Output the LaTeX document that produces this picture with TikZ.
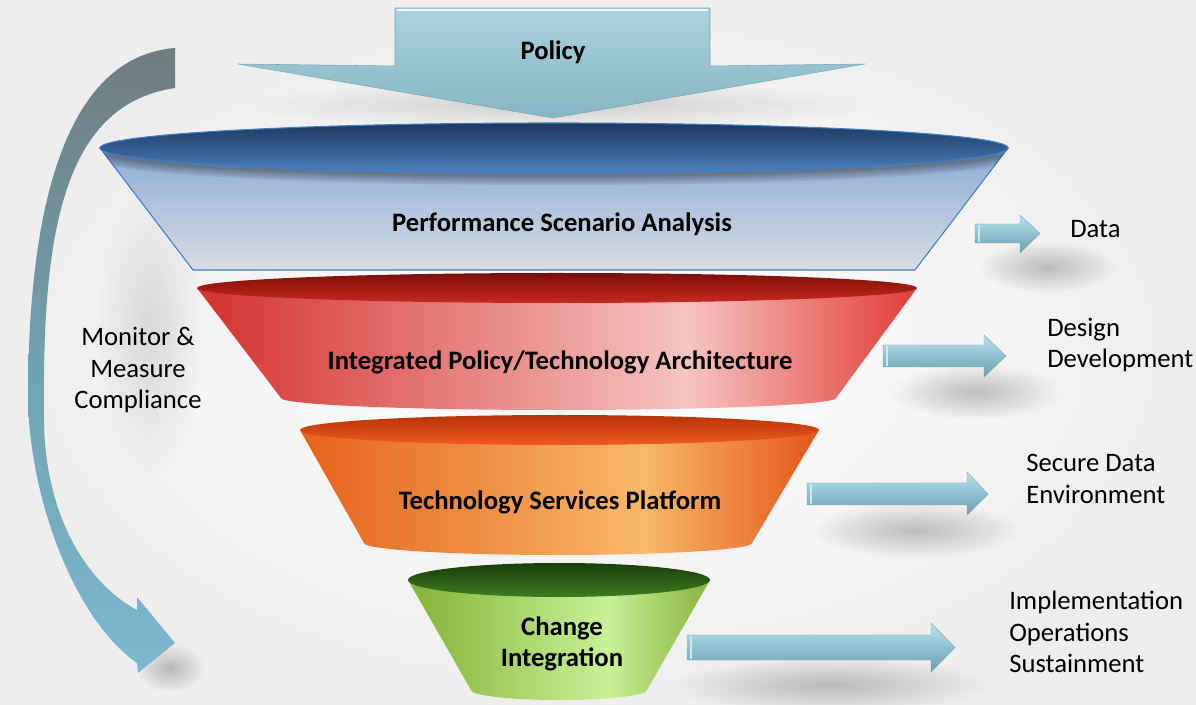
\documentclass[tikz,border=0pt]{standalone}
\usepackage{fontspec}
\setmainfont{Carlito}
\usepackage{tikz}
\usetikzlibrary{fadings}

\definecolor{policytop}{HTML}{A9D2DC}
\definecolor{policybot}{HTML}{86B6C4}
\definecolor{policyedge}{HTML}{7AA6B3}
\definecolor{lidtop}{HTML}{1D3960}
\definecolor{lidbot}{HTML}{4A80C0}
\definecolor{lidedge}{HTML}{3F7EC8}
\definecolor{traptop}{HTML}{8CABD6}
\definecolor{trapbot}{HTML}{D9DCE2}
\definecolor{redleft}{HTML}{D3322E}
\definecolor{redmid}{HTML}{F6C4C2}
\definecolor{redright}{HTML}{E23C36}
\definecolor{redin}{HTML}{7E0E0A}
\definecolor{redinb}{HTML}{C82A1E}
\definecolor{orleft}{HTML}{E5621C}
\definecolor{ormid}{HTML}{F8B868}
\definecolor{orright}{HTML}{E4561A}
\definecolor{orin}{HTML}{B8340A}
\definecolor{orinb}{HTML}{F05A20}
\definecolor{grleft}{HTML}{84B238}
\definecolor{grmid}{HTML}{C8F096}
\definecolor{grright}{HTML}{8AB240}
\definecolor{grin}{HTML}{1A3D0C}
\definecolor{grinb}{HTML}{3F7C20}
\definecolor{arrtop}{HTML}{BDE1EA}
\definecolor{arrmid}{HTML}{8EC2D0}
\definecolor{arrbot}{HTML}{6C9DAC}
\definecolor{loopgray}{HTML}{707C80}
\definecolor{loopteal}{HTML}{6FA3AE}
\definecolor{loopblue}{HTML}{7DB8D0}

\tikzfading[name=soft out, inner color=transparent!0, outer color=transparent!100]
\pgfdeclarehorizontalshading{redbody}{100bp}{color(0bp)=(redleft); color(25bp)=(redleft); color(59bp)=(redmid); color(75bp)=(redright); color(100bp)=(redright)}
\pgfdeclarehorizontalshading{orbody}{100bp}{color(0bp)=(orleft); color(25bp)=(orleft); color(58bp)=(ormid); color(75bp)=(orright); color(100bp)=(orright)}
\pgfdeclarehorizontalshading{grbody}{100bp}{color(0bp)=(grleft); color(25bp)=(grleft); color(58bp)=(grmid); color(75bp)=(grright); color(100bp)=(grright)}

\begin{document}
\begin{tikzpicture}[x=0.75pt,y=0.75pt]
\tikzstyle{every node}+=[inner sep=0pt]
\tikzstyle{sidearrow}=[top color=arrtop, bottom color=arrbot, middle color=arrmid, draw=policyedge, line width=0.3pt]
\tikzstyle{sidetext}=[font=\fontsize{20}{23.6}\selectfont, align=left, anchor=west]
\tikzstyle{stagetext}=[font=\fontsize{20}{23.6}\selectfont\bfseries, align=center]
\tikzstyle{softshadow}=[black, opacity=0.22, path fading=soft out]
\useasboundingbox (0,0) rectangle (1196,-705);
\shade [inner color=white, outer color=black!7] (0,0) rectangle (1196,-705);
\fill [softshadow] (1047,-267) ellipse (70 and 26);
\fill [softshadow] (975,-392) ellipse (85 and 28);
\fill [softshadow] (915,-530) ellipse (105 and 28);
\fill [softshadow] (830,-685) ellipse (160 and 28);
\fill [softshadow] (170,-668) ellipse (35 and 24);
\fill [black, opacity=0.15, path fading=soft out] (560,-105) ellipse (320 and 24);
\fill [black, opacity=0.10, path fading=soft out] (150,-330) ellipse (55 and 150);
\draw [top color=loopgray, bottom color=loopblue, middle color=loopteal, draw=none] (175,-48) .. controls (85,-55) and (28,-160) .. (28,-400) .. controls (30,-500) and (75,-620) .. (137,-663) -- (138,-673) -- (175,-643) -- (137,-597) -- (137,-610) .. controls (90,-585) and (45,-520) .. (44,-420) .. controls (42,-240) and (60,-105) .. (175,-88) -- cycle;
\draw [top color=policytop, bottom color=policybot, draw=policyedge, line width=0.4pt] (395,-8) -- (710,-8) -- (710,-66) -- (865,-64) -- (553,-118) -- (238,-64) -- (395,-66) -- cycle;
\draw [white!80!policytop, line width=1.5pt] (397,-10) -- (708,-10);
\draw (553,-52) node [stagetext] (policy) {Policy};
\draw [shading=grbody, draw=none] (408,-580) -- (471,-690) arc [start angle=180, end angle=360, x radius=88, y radius=10] -- (710,-580) -- cycle;
\draw [top color=grin, bottom color=grinb, draw=none] (559,-580) ellipse (151 and 17);
\draw [shading=orbody, draw=none] (300,-430) -- (364,-543) arc [start angle=180, end angle=360, x radius=194, y radius=12] -- (819,-430) -- cycle;
\draw [top color=orin, bottom color=orinb, draw=none] (559.5,-430) ellipse (259.5 and 15);
\draw [shading=redbody, draw=none] (197,-288) -- (281,-398) arc [start angle=180, end angle=360, x radius=277.5, y radius=12] -- (917,-288) -- cycle;
\draw [top color=redin, bottom color=redinb, draw=none] (557,-288) ellipse (360 and 15);
\draw [top color=traptop, bottom color=trapbot, draw=lidedge, line width=0.8pt] (100,-148) -- (193,-270) -- (915,-270) -- (1008,-148) -- cycle;
\begin{scope}
\clip (100,-148) -- (193,-270) -- (915,-270) -- (1008,-148) -- cycle;
\foreach \k in {1,...,5} \fill [black, opacity=0.08] (554,-150-\k*2) ellipse (454 and 25);
\end{scope}
\draw [top color=lidtop, bottom color=lidbot, draw=lidedge, line width=0.8pt] (554,-148) ellipse (454 and 25);
\draw (562,-224) node [stagetext] (perf) {Performance Scenario Analysis};
\draw (560,-362) node [stagetext] (arch) {Integrated Policy/Technology Architecture};
\draw (560,-502) node [stagetext] (platform) {Technology Services Platform};
\draw (562,-644) node [stagetext] (change) {Change\\Integration};
\draw [sidearrow] (975,-224) -- (1020,-224) -- (1020,-215) -- (1040,-233.5) -- (1020,-253) -- (1020,-243) -- (975,-243) -- cycle;
\draw [sidearrow] (883,-345) -- (984,-345) -- (984,-335) -- (1006,-356) -- (984,-377) -- (984,-367) -- (883,-367) -- cycle;
\draw [sidearrow] (807,-483) -- (967,-483) -- (967,-472) -- (988,-494) -- (967,-515) -- (967,-505) -- (807,-505) -- cycle;
\draw [sidearrow] (687,-635) -- (931,-635) -- (931,-623) -- (955,-647.5) -- (931,-672) -- (931,-660) -- (687,-660) -- cycle;
\draw [white!60!arrmid, line width=0.8pt] (979,-225) -- (979,-242) (887,-346) -- (887,-366);
\draw [white!60!arrmid, line width=0.8pt] (811,-484) -- (811,-504) (691,-636) -- (691,-659);
\draw (1070,-229) node [sidetext] (data) {Data};
\draw (1047,-345) node [sidetext] (design) {Design\\Development};
\draw (1026,-479) node [sidetext] (secure) {Secure Data\\Environment};
\draw (1009,-632) node [sidetext] (impl) {Implementation\\Operations\\Sustainment};
\draw (138,-370) node [stagetext, font=\fontsize{20}{23.6}\selectfont] (monitor) {Monitor \&\\Measure\\Compliance};
\end{tikzpicture}
\end{document}
